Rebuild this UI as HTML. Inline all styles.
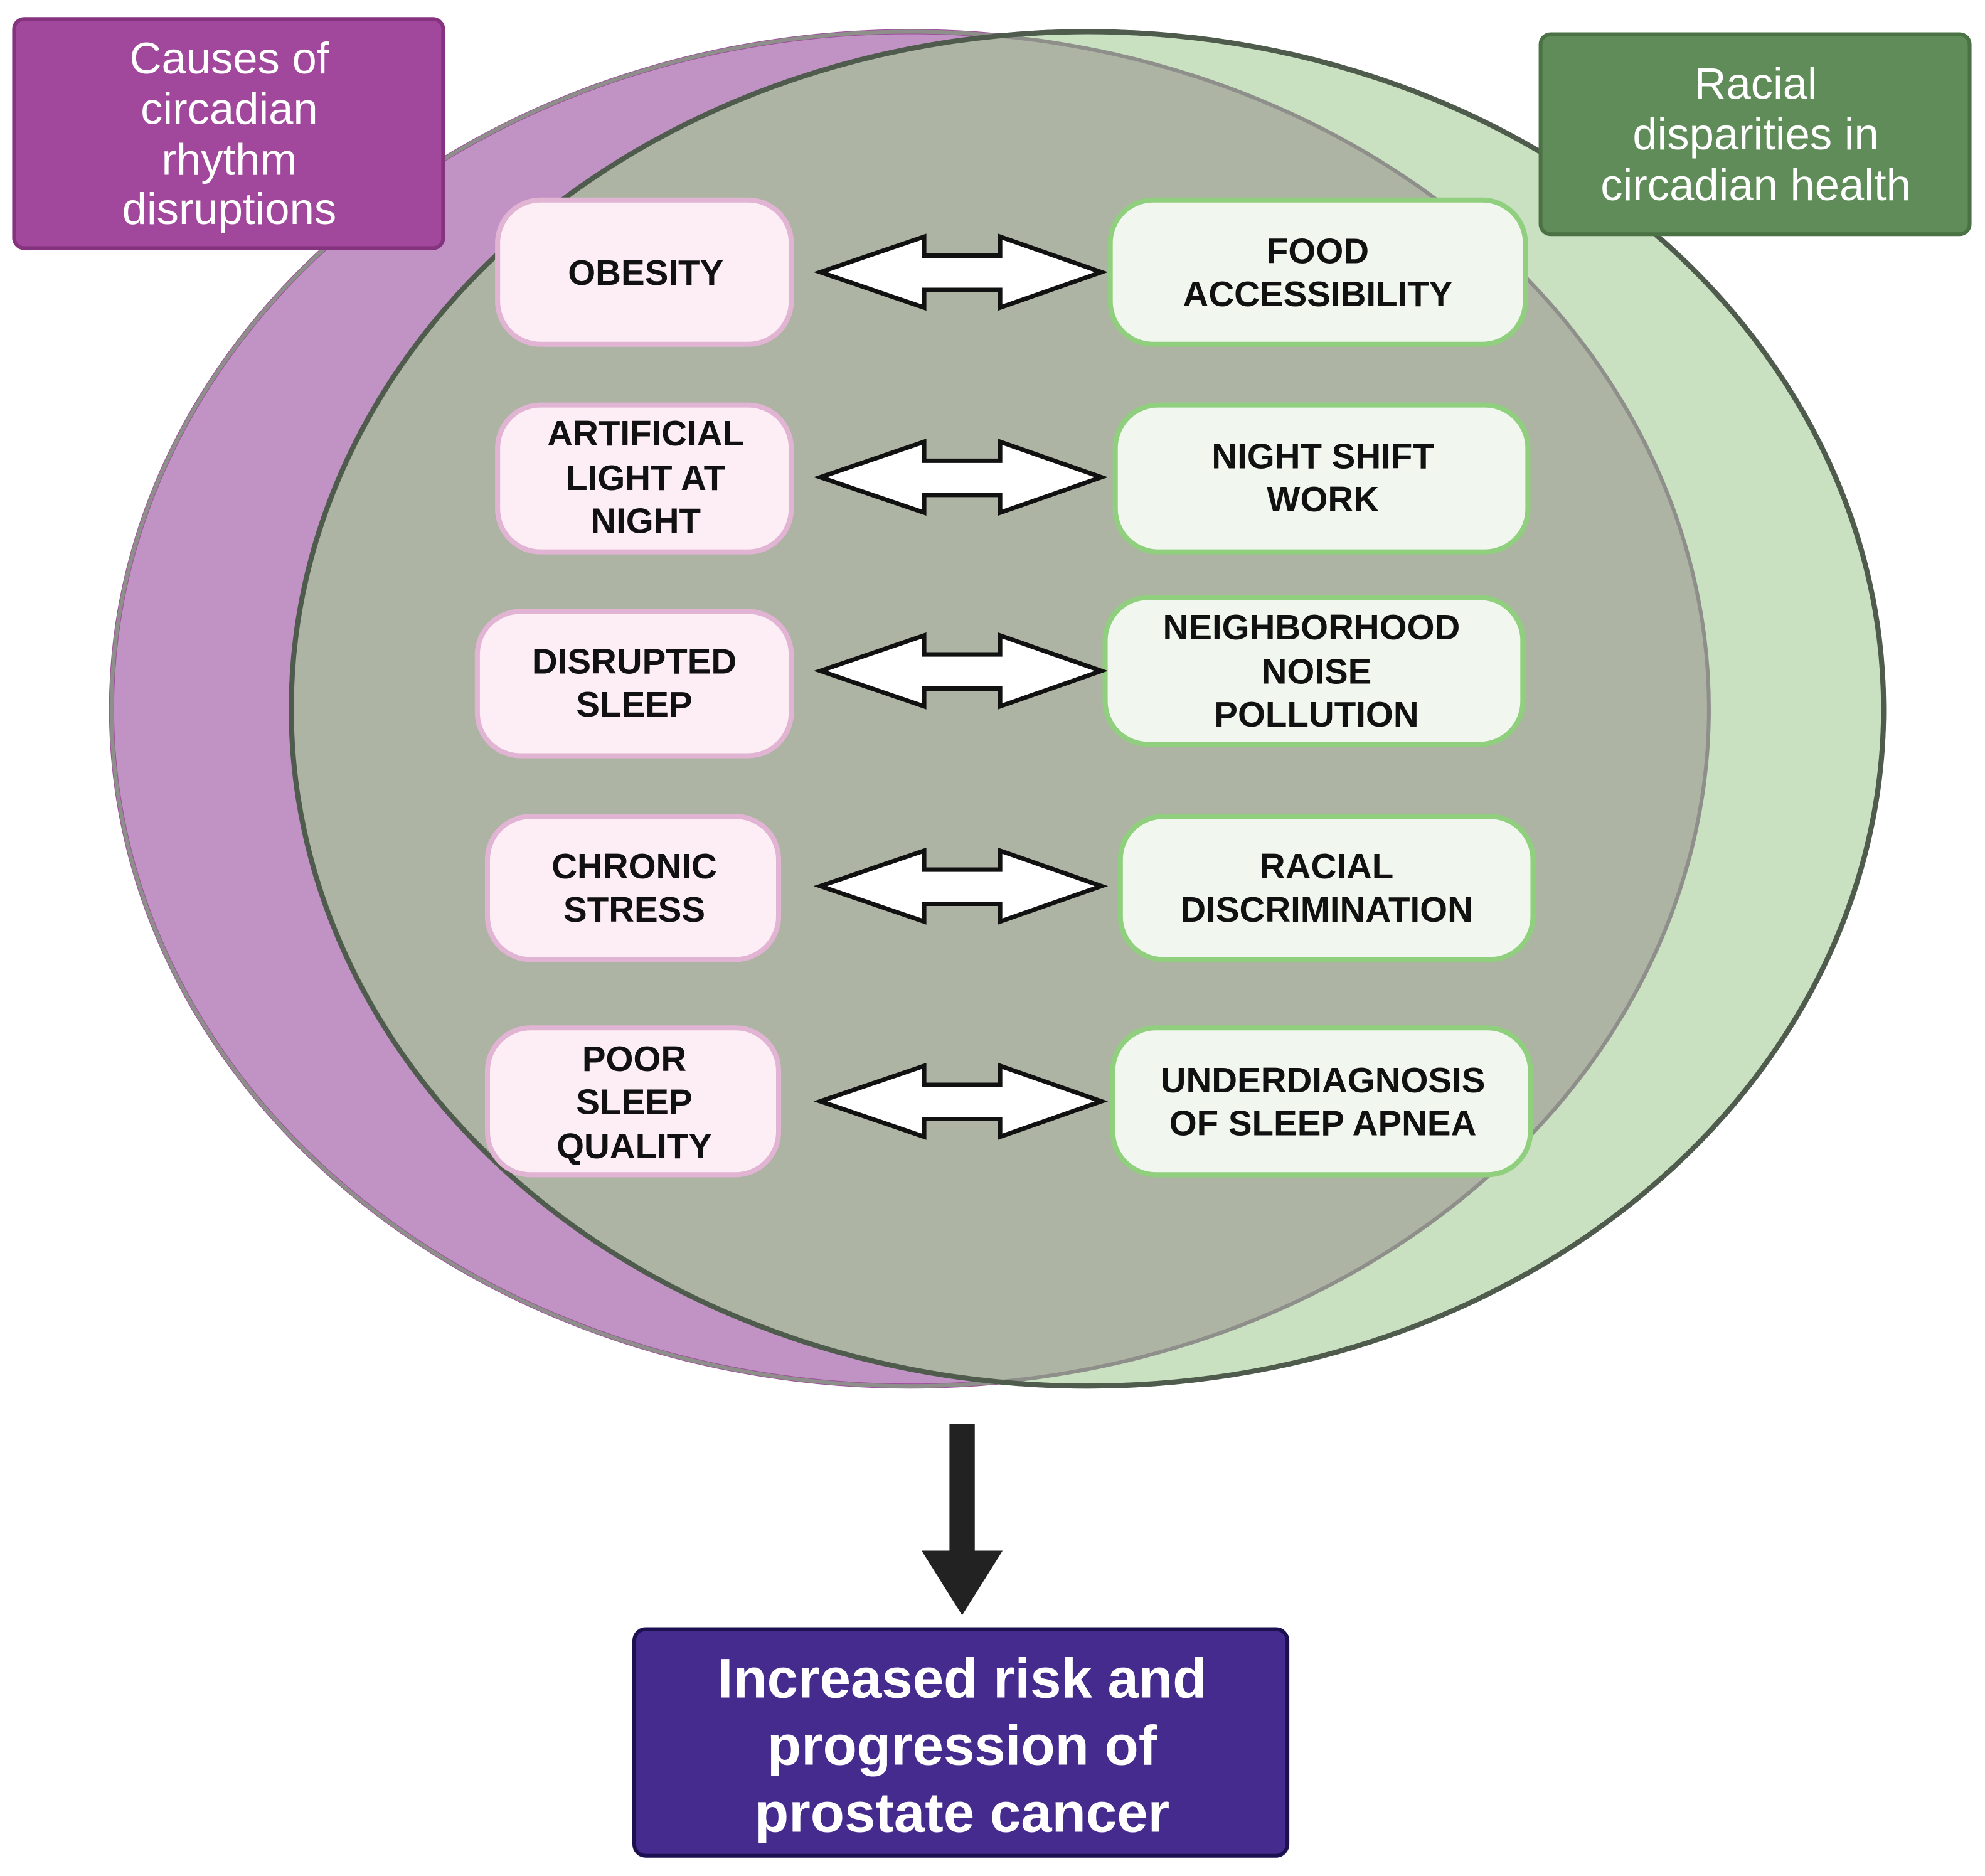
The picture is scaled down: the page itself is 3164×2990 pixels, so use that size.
<!DOCTYPE html>
<html><head><meta charset="utf-8"><style>
html,body{margin:0;padding:0;background:#fff;}
svg{display:block;}
text{font-family:"Liberation Sans",sans-serif;}
.b{font-weight:bold;font-size:28px;fill:#111;text-anchor:middle;}
.t{font-size:35px;fill:#fff;text-anchor:middle;}
.f{font-weight:bold;font-size:44px;fill:#fff;text-anchor:middle;}
.pk{fill:#fdeef5;stroke:#e2b4d3;stroke-width:4;}
.gn{fill:#f1f7ee;stroke:#8fcf7d;stroke-width:4;}
.ar{fill:#fff;stroke:#111;stroke-width:3.5;stroke-linejoin:miter;}
</style></head><body>
<svg width="3164" height="2990" viewBox="0 0 1568 1482" xmlns="http://www.w3.org/2000/svg">
<defs>
<clipPath id="cp"><ellipse cx="719" cy="560" rx="631" ry="535"/></clipPath>
</defs>
<rect width="1568" height="1482" fill="#fff"/>
<ellipse cx="719" cy="560" rx="631" ry="535" fill="#c193c4" stroke="#9e4f9c" stroke-width="4"/>
<ellipse cx="859" cy="560" rx="629" ry="535" fill="#c9e0c1" stroke="#5f7a5c" stroke-width="4"/>
<g clip-path="url(#cp)">
<ellipse cx="859" cy="560" rx="629" ry="535" fill="#adb4a4"/>
</g>
<ellipse cx="719" cy="560" rx="631" ry="535" fill="none" stroke="#8e8f8a" stroke-width="3" clip-path="url(#cg)"/>
<path d="M0 0" />
<ellipse cx="859" cy="560" rx="629" ry="535" fill="none" stroke="#4f5c4d" stroke-width="4"/>
<!-- title boxes -->
<rect x="11" y="15" width="339" height="181" rx="8" fill="#a1489c" stroke="#85327f" stroke-width="3"/>
<text class="t" x="181" y="58">Causes of</text>
<text class="t" x="181" y="98">circadian</text>
<text class="t" x="181" y="138">rhythm</text>
<text class="t" x="181" y="177">disruptions</text>
<rect x="1217" y="27" width="339" height="158" rx="8" fill="#5f8c58" stroke="#4a7244" stroke-width="3"/>
<text class="t" x="1387" y="78">Racial</text>
<text class="t" x="1387" y="118">disparities in</text>
<text class="t" x="1387" y="158">circadian health</text>
<!-- pink boxes -->
<rect class="pk" x="393" y="158" width="232" height="114" rx="34"/>
<text class="b" x="510" y="225">OBESITY</text>
<rect class="pk" x="393" y="320" width="232" height="116" rx="34"/>
<text class="b" x="510" y="352">ARTIFICIAL</text>
<text class="b" x="510" y="387">LIGHT AT</text>
<text class="b" x="510" y="421">NIGHT</text>
<rect class="pk" x="377" y="483" width="248" height="114" rx="34"/>
<text class="b" x="501" y="532">DISRUPTED</text>
<text class="b" x="501" y="566">SLEEP</text>
<rect class="pk" x="385" y="645" width="230" height="113" rx="34"/>
<text class="b" x="501" y="694">CHRONIC</text>
<text class="b" x="501" y="728">STRESS</text>
<rect class="pk" x="385" y="812" width="230" height="116" rx="34"/>
<text class="b" x="501" y="846">POOR</text>
<text class="b" x="501" y="880">SLEEP</text>
<text class="b" x="501" y="915">QUALITY</text>
<!-- green boxes -->
<rect class="gn" x="877" y="158" width="328" height="114" rx="34"/>
<text class="b" x="1041" y="208">FOOD</text>
<text class="b" x="1041" y="242">ACCESSIBILITY</text>
<rect class="gn" x="881" y="320" width="326" height="116" rx="34"/>
<text class="b" x="1045" y="370">NIGHT SHIFT</text>
<text class="b" x="1045" y="404">WORK</text>
<rect class="gn" x="873" y="472" width="330" height="116" rx="34"/>
<text class="b" x="1036" y="505">NEIGHBORHOOD</text>
<text class="b" x="1040" y="540">NOISE</text>
<text class="b" x="1040" y="574">POLLUTION</text>
<rect class="gn" x="885" y="645" width="326" height="113" rx="34"/>
<text class="b" x="1048" y="694">RACIAL</text>
<text class="b" x="1048" y="728">DISCRIMINATION</text>
<rect class="gn" x="879" y="812" width="330" height="116" rx="34"/>
<text class="b" x="1045" y="863">UNDERDIAGNOSIS</text>
<text class="b" x="1045" y="897">OF SLEEP APNEA</text>
<!-- double arrows -->
<g id="da"><polygon class="ar" points="648,215 730,187 730,202 790,202 790,187 870,215 790,243 790,229 730,229 730,243"/></g>
<use href="#da" y="162"/>
<use href="#da" y="315"/>
<use href="#da" y="485"/>
<use href="#da" y="655"/>
<!-- down arrow -->
<rect x="750" y="1125" width="20" height="102" fill="#222"/>
<polygon points="728,1225 792,1225 760,1276" fill="#222"/>
<!-- bottom box -->
<rect x="501" y="1287" width="516" height="179" rx="9" fill="#452b8e" stroke="#1c1050" stroke-width="3"/>
<text class="f" x="760" y="1341">Increased risk and</text>
<text class="f" x="760" y="1394">progression of</text>
<text class="f" x="760" y="1447">prostate cancer</text>
</svg>
</body></html>
